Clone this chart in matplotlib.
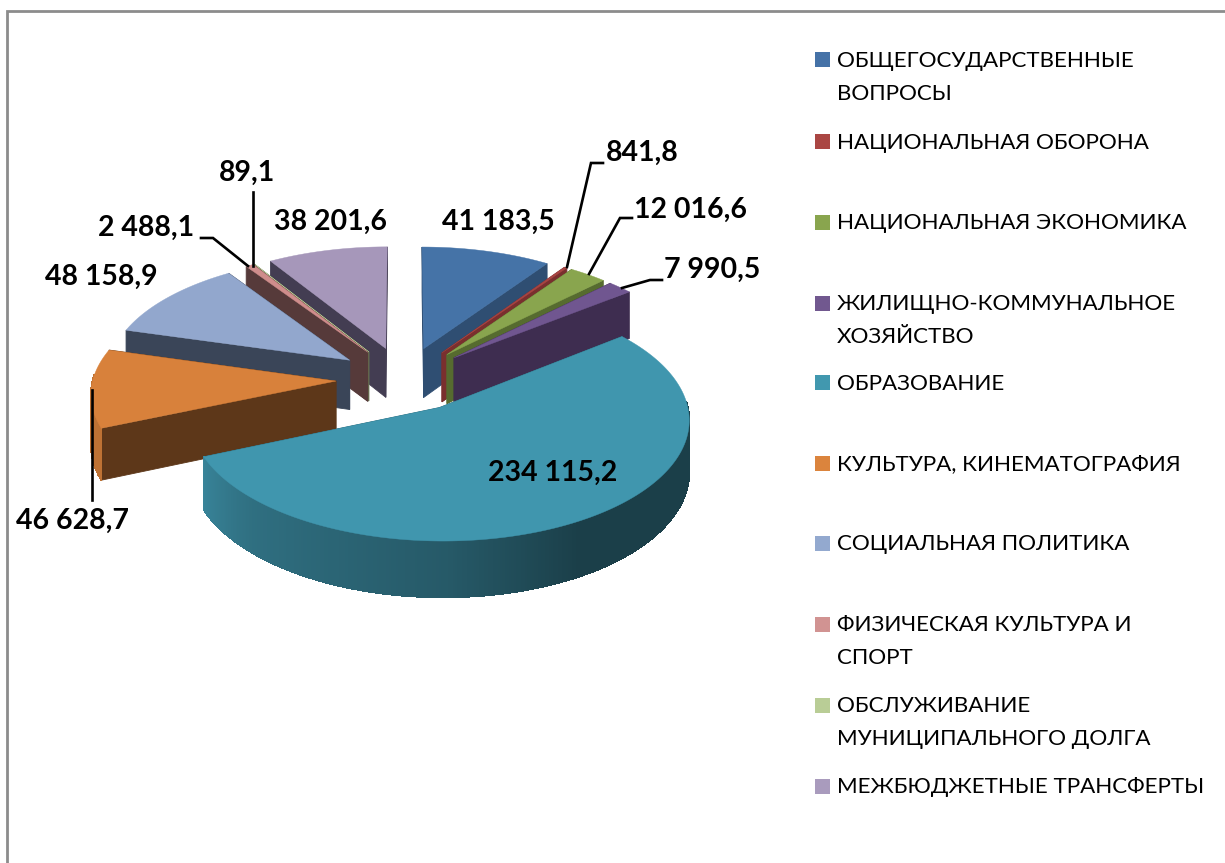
import numpy as np
import matplotlib
matplotlib.use("Agg")
import matplotlib.pyplot as plt
from matplotlib.patches import Polygon, Rectangle
from matplotlib.colors import to_rgb

categories = ["ОБЩЕГОСУДАРСТВЕННЫЕ\nВОПРОСЫ", "НАЦИОНАЛЬНАЯ ОБОРОНА", "НАЦИОНАЛЬНАЯ ЭКОНОМИКА",
              "ЖИЛИЩНО-КОММУНАЛЬНОЕ\nХОЗЯЙСТВО", "ОБРАЗОВАНИЕ", "КУЛЬТУРА, КИНЕМАТОГРАФИЯ",
              "СОЦИАЛЬНАЯ ПОЛИТИКА", "ФИЗИЧЕСКАЯ КУЛЬТУРА И\nСПОРТ",
              "ОБСЛУЖИВАНИЕ\nМУНИЦИПАЛЬНОГО ДОЛГА", "МЕЖБЮДЖЕТНЫЕ ТРАНСФЕРТЫ"]
values = [41183.5, 841.8, 12016.6, 7990.5, 234115.2, 46628.7, 48158.9, 2488.1, 89.1, 38201.6]
value_labels = ["41 183,5", "841,8", "12 016,6", "7 990,5", "234 115,2",
                "46 628,7", "48 158,9", "2 488,1", "89,1", "38 201,6"]
top_colors = ["#4573A7", "#A94543", "#89A54E", "#705690", "#4096AE",
              "#D8813B", "#92A7CD", "#CF8D8C", "#B9CD96", "#A697BA"]
wall_colors = ["#2F4E72", "#7A2F2E", "#566B2F", "#3E2D50", "#2A6374",
               "#5D3719", "#3A4558", "#563A3A", "#6B7A55", "#433D52"]
legend_colors = ["#4572A7", "#AA4643", "#89A54E", "#71588F", "#4198AF",
                 "#DB843D", "#93A9CF", "#D19392", "#B9CD96", "#A99BBD"]

plt.rcParams['font.family'] = ['Lato', 'Noto Sans', 'DejaVu Sans']
W, H = 1225, 863
fig = plt.figure(figsize=(W/100, H/100), dpi=100, facecolor='white')
ax = fig.add_axes([0, 0, 1, 1])
ax.set_xlim(0, W); ax.set_ylim(H, 0); ax.axis('off')

# frame
ax.plot([7, 7, W], [H, 11, 11], color='#8C8C8C', lw=2.0, solid_joinstyle='miter')

CX, CY, RX, RY, K, E, D = 404, 379, 243, 116, 0.09, 0.28, 50

def proj(X, Y, z=0.0):
    s = 1.0 / (1.0 - K * Y)
    return CX + RX * X * s, CY + RY * Y * s + D * z * s

def shade(theta):
    return np.interp(theta % 360, [0, 100, 150, 180, 225, 247, 290, 360],
                     [.42, .42, .42, .60, .74, .88, .88, .88])

total = sum(values)
ang = np.concatenate([[0], np.cumsum(values)]) / total * 360
order = [9, 8, 7, 0, 1, 2, 3, 6, 5, 4]

for i in order:
    a0, a1 = ang[i], ang[i + 1]
    mid = np.radians((a0 + a1) / 2)
    ax0, ay0 = E * np.sin(mid), -E * np.cos(mid)
    n = max(2, int((a1 - a0) * 2))
    th = np.linspace(a0, a1, n)
    rad = np.radians(th)
    X = ax0 + np.sin(rad); Y = ay0 - np.cos(rad)
    faces = []
    # radial walls
    for xx, yy in [(X[0], Y[0]), (X[-1], Y[-1])]:
        q = [proj(ax0, ay0), proj(xx, yy), proj(xx, yy, 1), proj(ax0, ay0, 1)]
        faces.append(((ay0 + yy) / 2, q, to_rgb(wall_colors[i]), True))
    # outer wall
    base = np.array(to_rgb(top_colors[i]))
    for j in range(n - 1):
        if -np.cos((rad[j] + rad[j + 1]) / 2) < -0.05:
            continue
        q = [proj(X[j], Y[j]), proj(X[j + 1], Y[j + 1]), proj(X[j + 1], Y[j + 1], 1), proj(X[j], Y[j], 1)]
        c = tuple(base * shade((th[j] + th[j + 1]) / 2))
        faces.append(((Y[j] + Y[j + 1]) / 2, q, c, False))
    for _, q, c, aa in sorted(faces, key=lambda f: f[0]):
        ax.add_patch(Polygon(q, closed=True, fc=c, ec=c, lw=0.6, antialiased=aa))
    pts = [proj(ax0, ay0)] + [proj(x, y) for x, y in zip(X, Y)]
    ax.add_patch(Polygon(pts, closed=True, fc=top_colors[i], ec=top_colors[i], lw=0.3))

# leader lines
leaders = [[(567, 267), (591, 163), (603, 163)],
           [(589, 274), (620, 218), (632, 218)],
           [(622, 288), (650, 280), (662, 280)],
           [(248, 266), (213, 238), (201, 238)],
           [(253, 266), (253, 192)],
           [(92, 390), (92, 500)]]
for l in leaders:
    ax.plot(*zip(*l), color='black', lw=1.9, solid_joinstyle='miter')

label_pos = [(498, 222), (642, 153), (691, 210), (712, 270), (553, 473),
             (73, 521), (101, 277), (146, 228), (247, 173), (331, 222)]
for t, (x, y) in zip(value_labels, label_pos):
    ax.text(x, y, t, ha='center', va='center', fontsize=20.5, fontweight='bold', color='black')

# legend
marker_y = [60, 142, 222, 303, 383, 463, 543, 624, 705, 786]
for name, c, y in zip(categories, legend_colors, marker_y):
    ax.add_patch(Rectangle((815, y - 7.5), 15, 15, fc=c, ec='none'))
    lines = name.split("\n")
    for k, ln in enumerate(lines):
        ax.text(837, y + 1 + k * 32.5, ln, ha='left', va='center', fontsize=16.1, color='black')

fig.savefig("out.png", dpi=100, facecolor='white')
